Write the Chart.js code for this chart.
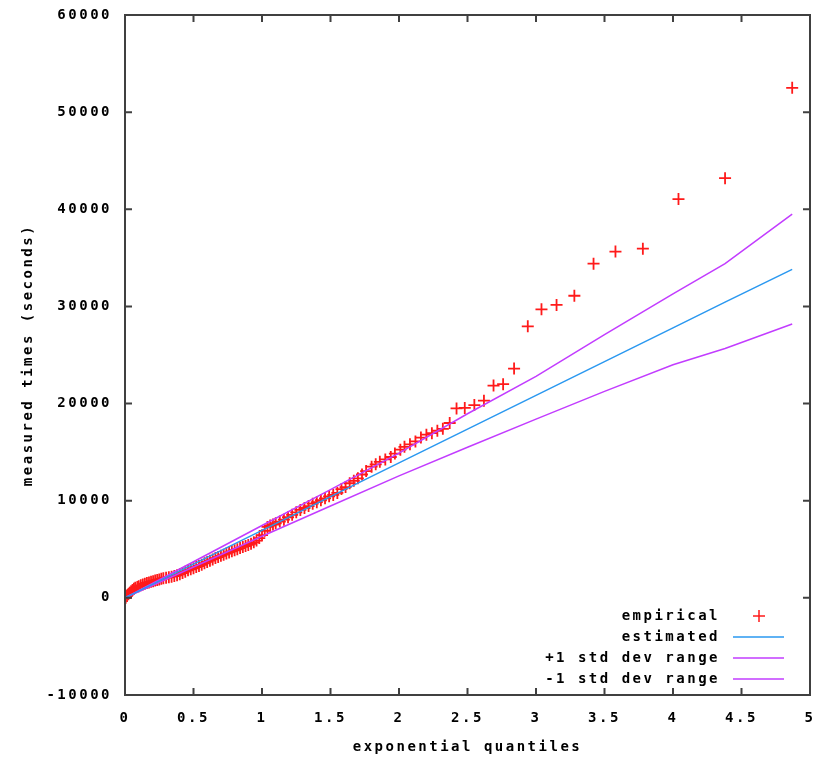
<!DOCTYPE html>
<html lang="en">
<head>
<meta charset="UTF-8" />
<title>Exponential quantile plot</title>
<script src="https://cdn.jsdelivr.net/npm/chart.js"></script>
<style>
  body { margin: 0; background: #fff; }
  #chart-container { width: 823px; height: 758px; }
</style>
</head>
<body>
<div id="chart-container"><canvas id="qq-chart" width="823" height="758"></canvas></div>
<script>
// empirical points (exponential quantile, measured seconds)
const empiricalX = [0.005, 0.015, 0.025, 0.035, 0.045, 0.055, 0.065, 0.075, 0.09, 0.10,
  0.115, 0.13, 0.145, 0.16, 0.175, 0.19, 0.205, 0.22, 0.235, 0.25,
  0.265, 0.28, 0.30, 0.32, 0.34, 0.36, 0.38, 0.40, 0.42, 0.44,
  0.46, 0.48, 0.50, 0.52, 0.54, 0.56, 0.58, 0.60, 0.62, 0.64,
  0.66, 0.68, 0.70, 0.72, 0.74, 0.76, 0.78, 0.80, 0.82, 0.84,
  0.86, 0.88, 0.90, 0.92, 0.94, 0.96, 0.98, 1.00, 1.02, 1.04,
  1.06, 1.08, 1.10, 1.13, 1.16, 1.19, 1.22, 1.25, 1.28, 1.31,
  1.34, 1.37, 1.40, 1.43, 1.46, 1.49, 1.52, 1.55, 1.58, 1.61,
  1.64, 1.67, 1.70, 1.73, 1.76, 1.80, 1.83, 1.86, 1.90, 1.94,
  1.97, 2.01, 2.04, 2.08, 2.12, 2.16, 2.20, 2.24, 2.28, 2.32,
  2.37, 2.42, 2.48, 2.55, 2.62, 2.69, 2.76, 2.84, 2.94, 3.04,
  3.15, 3.28, 3.42, 3.58, 3.78, 4.04, 4.38, 4.87];
const empiricalY = [0, 200, 380, 520, 680, 820, 950, 1050, 1130, 1200,
  1290, 1380, 1460, 1530, 1590, 1650, 1710, 1780, 1840, 1900,
  1960, 2020, 2080, 2120, 2180, 2250, 2320, 2420, 2560, 2700,
  2830, 2940, 3050, 3170, 3280, 3400, 3560, 3700, 3830, 3960,
  4100, 4200, 4330, 4450, 4560, 4680, 4790, 4900, 5000, 5120,
  5240, 5340, 5450, 5570, 5720, 5900, 6150, 6450, 6900, 7300,
  7450, 7550, 7680, 7850, 8050, 8300, 8550, 8800, 9050, 9250,
  9450, 9700, 9850, 10050, 10250, 10450, 10600, 10800, 11200, 11400,
  11800, 12050, 12300, 12700, 13050, 13500, 13750, 14000, 14250, 14500,
  14850, 15250, 15550, 15800, 16100, 16500, 16800, 16950, 17200, 17400,
  18000, 19500, 19550, 19850, 20300, 21850, 22000, 23600, 27950, 29700,
  30150, 31100, 34400, 35650, 35950, 41050, 43200, 52500];

// fitted lines
const lineX = [0, 0.5, 1, 1.5, 2, 2.5, 3, 3.5, 4, 4.38, 4.87];
const estimatedY = [0, 3480, 6950, 10420, 13900, 17370, 20850, 24320, 27800, 30440, 33820];
const plusOneY = [0, 3720, 7450, 11150, 14900, 18950, 22800, 27100, 31300, 34400, 39500];
const minusOneY = [0, 3180, 6340, 9450, 12560, 15500, 18400, 21250, 24000, 25670, 28190];

const xTicks = [0, 0.5, 1, 1.5, 2, 2.5, 3, 3.5, 4, 4.5, 5];
const yTicks = [-10000, 0, 10000, 20000, 30000, 40000, 50000, 60000];
const seriesLabels = ["empirical", "estimated", "+1 std dev range", "-1 std dev range"];

const RED = "#ff1a1a";
const BLUE = "#2a98f0";
const PURPLE = "#c23cff";
const FONT = { family: "'DejaVu Sans Mono', monospace", size: 14, weight: "bold" };
const SPACING = "2.5px";

function toPoints(xs, ys) {
  return xs.map((x, i) => ({ x: x, y: ys[i] }));
}

// gnuplot-like frame with inward ticks on all sides
const framePlugin = {
  id: "frame",
  beforeDraw(chart) {
    chart.ctx.letterSpacing = SPACING;
  },
  afterDraw(chart) {
    const ctx = chart.ctx;
    const a = chart.chartArea;
    const xs = chart.scales.x;
    const ys = chart.scales.y;
    ctx.save();
    ctx.strokeStyle = "#404040";
    ctx.lineWidth = 2;
    ctx.strokeRect(a.left, a.top, a.right - a.left, a.bottom - a.top);
    ctx.beginPath();
    xTicks.forEach((v) => {
      const px = xs.getPixelForValue(v);
      ctx.moveTo(px, a.bottom); ctx.lineTo(px, a.bottom - 7);
      ctx.moveTo(px, a.top); ctx.lineTo(px, a.top + 7);
    });
    yTicks.forEach((v) => {
      const py = ys.getPixelForValue(v);
      ctx.moveTo(a.left, py); ctx.lineTo(a.left + 7, py);
      ctx.moveTo(a.right, py); ctx.lineTo(a.right - 7, py);
    });
    ctx.stroke();

    // legend, bottom right inside the plot
    const rows = [616, 637, 658, 679];
    ctx.font = "bold 14px 'DejaVu Sans Mono', monospace";
    ctx.textAlign = "right";
    ctx.textBaseline = "middle";
    ctx.fillStyle = "#000";
    chart.data.datasets.forEach((ds) => {
      const ry = rows[ds.legendRow];
      ctx.fillText(ds.label, 720, ry);
      ctx.strokeStyle = ds.borderColor;
      ctx.lineWidth = 1.5;
      ctx.beginPath();
      if (ds.legendRow === 0) {
        ctx.moveTo(753, ry); ctx.lineTo(765, ry);
        ctx.moveTo(759, ry - 6); ctx.lineTo(759, ry + 6);
      } else {
        ctx.moveTo(733, ry); ctx.lineTo(784, ry);
      }
      ctx.stroke();
    });
    ctx.restore();
  },
};

new Chart(document.getElementById("qq-chart"), {
  type: "scatter",
  data: {
    datasets: [
      {
        label: seriesLabels[0],
        legendRow: 0,
        data: toPoints(empiricalX, empiricalY),
        pointStyle: "cross",
        pointRadius: 6,
        borderColor: RED,
        backgroundColor: RED,
        borderWidth: 1.8,
        order: 4,
      },
      {
        label: seriesLabels[1],
        legendRow: 1,
        data: toPoints(lineX, estimatedY),
        showLine: true,
        pointRadius: 0,
        borderColor: BLUE,
        borderWidth: 1.5,
        order: 1,
      },
      {
        label: seriesLabels[2],
        legendRow: 2,
        data: toPoints(lineX, plusOneY),
        showLine: true,
        pointRadius: 0,
        borderColor: PURPLE,
        borderWidth: 1.5,
        order: 2,
      },
      {
        label: seriesLabels[3],
        legendRow: 3,
        data: toPoints(lineX, minusOneY),
        showLine: true,
        pointRadius: 0,
        borderColor: PURPLE,
        borderWidth: 1.5,
        order: 3,
      },
    ],
  },
  options: {
    responsive: false,
    animation: false,
    layout: { padding: { top: 15, right: 13, left: 0, bottom: 0 } },
    plugins: {
      legend: { display: false },
      tooltip: { enabled: false },
    },
    scales: {
      x: {
        type: "linear",
        min: 0,
        max: 5,
        afterBuildTicks: (scale) => { scale.ticks = xTicks.map((v) => ({ value: v })); },
        afterFit: (scale) => {
          scale.height = 63;
          scale.paddingLeft = 0;
          scale.paddingRight = 0;
        },
        grid: { display: false, drawTicks: false },
        border: { display: false },
        ticks: { color: "#000", font: FONT, padding: 15, maxRotation: 0, callback: (v) => String(v) },
        title: { display: true, text: "exponential quantiles", color: "#000", font: FONT, padding: { top: 0, bottom: 2 } },
      },
      y: {
        type: "linear",
        min: -10000,
        max: 60000,
        afterBuildTicks: (scale) => { scale.ticks = yTicks.map((v) => ({ value: v })); },
        afterFit: (scale) => {
          scale.width = 125;
          scale.paddingTop = 0;
          scale.paddingBottom = 0;
        },
        grid: { display: false, drawTicks: false },
        border: { display: false },
        ticks: { color: "#000", font: FONT, padding: 13, callback: (v) => String(v) },
        title: { display: true, text: "measured times (seconds)", color: "#000", font: FONT, padding: { top: 20, bottom: 0 } },
      },
    },
  },
  plugins: [framePlugin],
});
</script>
</body>
</html>
